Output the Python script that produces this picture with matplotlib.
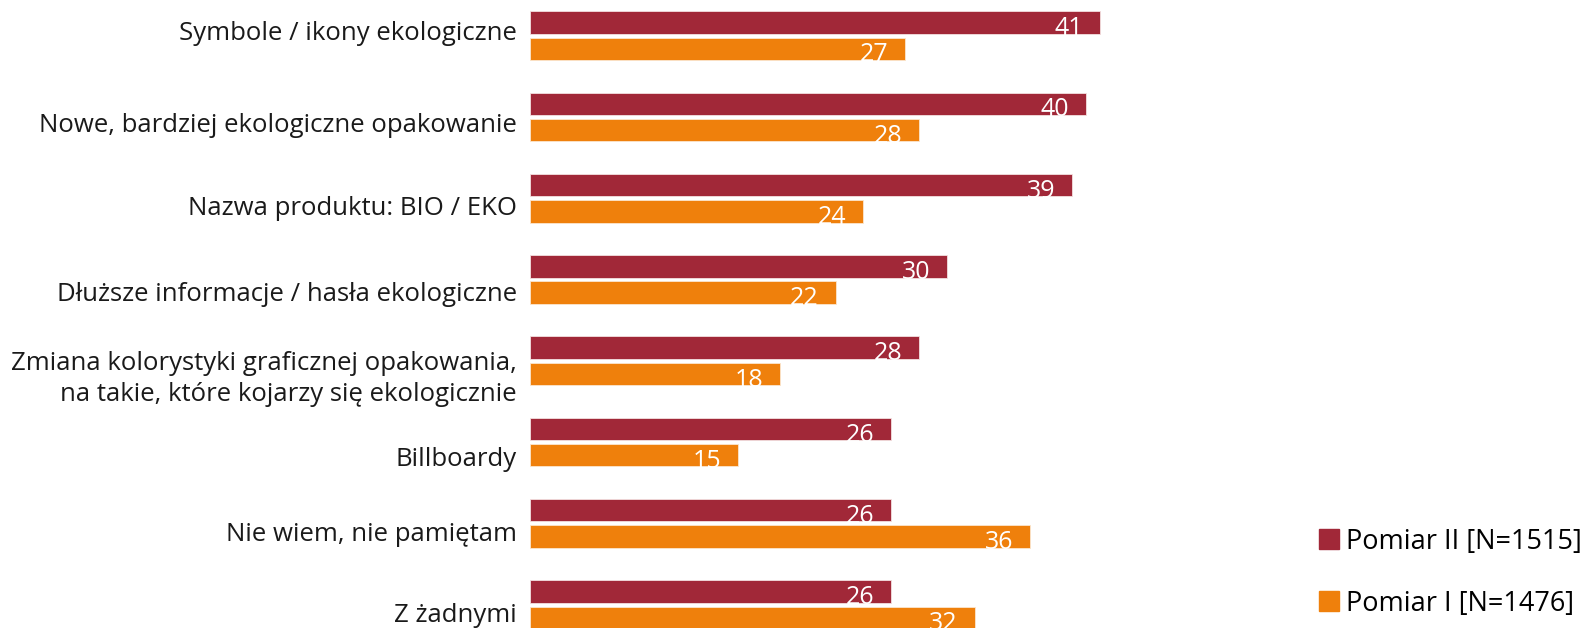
import numpy as np
import matplotlib
matplotlib.use('Agg')
import matplotlib.pyplot as plt
from matplotlib.lines import Line2D

plt.rcParams['font.family'] = ['Open Sans', 'DejaVu Sans']

categories = [
    'Symbole / ikony ekologiczne',
    'Nowe, bardziej ekologiczne opakowanie',
    'Nazwa produktu: BIO / EKO',
    'Dłuższe informacje / hasła ekologiczne',
    'Zmiana kolorystyki graficznej opakowania,\nna takie, które kojarzy się ekologicznie',
    'Billboardy',
    'Nie wiem, nie pamiętam',
    'Z żadnymi',
]
pomiar_2 = [41, 40, 39, 30, 28, 26, 26, 26]
pomiar_1 = [27, 28, 24, 22, 18, 15, 36, 32]
series_names = ['Pomiar II [N=1515]', 'Pomiar I [N=1476]']

c_red = '#A12838'
c_orange = '#EF800C'

# small vertical nudges for the category labels (in group units)
label_nudge = [-0.02, 0.11, 0.13, 0.18, 0.22, 0.22, 0.14, 0.13]

fig = plt.figure(figsize=(15.93, 6.28), dpi=100)
ax = fig.add_axes([529.5 / 1593, 0, 834.6 / 1593, 1])

y = np.arange(len(categories))
off = 0.162
h = 0.276

b2 = ax.barh(y - off, pomiar_2, height=h, color=c_red, edgecolor='#f4e0e0', lw=0.6)
b1 = ax.barh(y + off, pomiar_1, height=h, color=c_orange, edgecolor='#fbe6cf', lw=0.6)

for bars, vals in ((b2, pomiar_2), (b1, pomiar_1)):
    for r, v in zip(bars, vals):
        ax.annotate(str(v), (v, r.get_y() + r.get_height()),
                    xytext=(-12, -1), textcoords='offset points',
                    ha='right', va='baseline', color='white', fontsize=18,
                    annotation_clip=False)

ax.set_xlim(0, 60)
ax.set_ylim(7.287, -0.438)
ax.set_yticks([])
ax.set_xticks([])
for s in ax.spines.values():
    s.set_visible(False)

for i, lab in enumerate(categories):
    ax.annotate(lab, (0, i + label_nudge[i]), xytext=(-9, 0),
                textcoords='offset points', ha='right', va='center',
                fontsize=18.5, color='#1a1a1a', linespacing=1.3)

handles = [Line2D([], [], marker='s', ls='none', markersize=14, color=c)
           for c in (c_red, c_orange)]
fig.legend(handles, series_names, loc='upper left',
           bbox_to_anchor=(1305 / 1593, 1 - 514 / 628), frameon=False,
           fontsize=19.5, handletextpad=0.2, labelspacing=1.27,
           borderpad=0, handlelength=0.8)

fig.savefig('out.png', dpi=100)
